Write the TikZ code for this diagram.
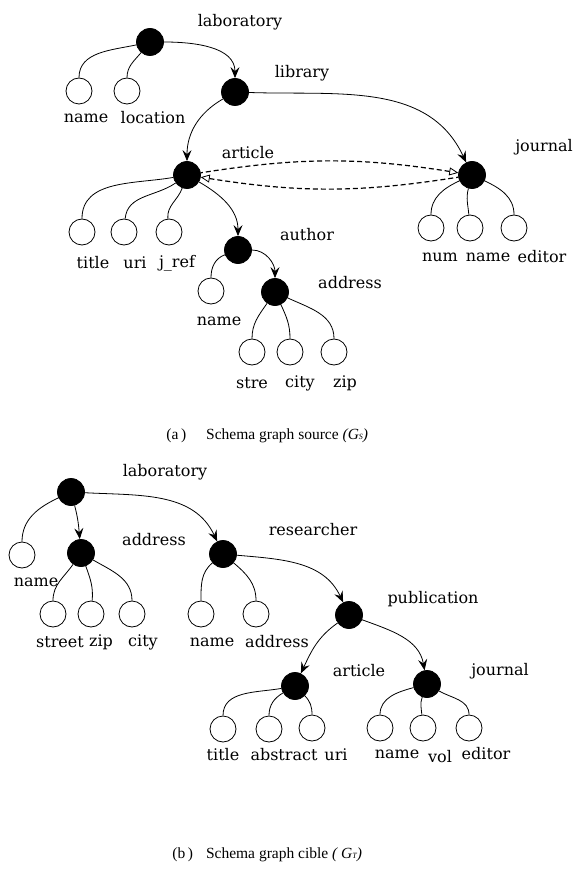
\documentclass[tikz,border=0pt]{standalone}
\usepackage{fontspec}
\usepackage{tikz}
\usetikzlibrary{arrows.meta}
\newfontfamily\lblfont{DejaVu Serif}
\newfontfamily\capfont{Liberation Serif}

\tikzset{
  full/.style = {circle, draw, fill=black, minimum size=27pt, inner sep=0pt},
  leaf/.style = {circle, draw, fill=white, minimum size=26pt, inner sep=0pt},
  lbl/.style  = {inner sep=0pt, font=\lblfont\fontsize{16}{18}\selectfont},
  captxt/.style = {inner sep=0pt, anchor=west, font=\capfont\fontsize{15.5}{18}\selectfont},
  arr/.style  = {-{Stealth[length=11pt, width=9pt, inset=4pt]}},
  link/.style = {line width=1.2pt, dash pattern=on 5pt off 3pt,
                 {Triangle[open, length=9pt, width=8pt, line width=0.8pt]}-},
}

\begin{document}
\begin{tikzpicture}[x=1pt, y=-1pt, line width=0.8pt]
        \useasboundingbox (0,0) rectangle (576,877);

        % (a) source graph
        \node[full] (sLab)   at (150,42)  {};
        \node[leaf] (sName)  at (79,91)   {};
        \node[leaf] (sLoc)   at (127,91)  {};
        \node[full] (sLib)   at (235,92)  {};
        \node[full] (sArt)   at (187,175) {};
        \node[full] (sJour)  at (472,175) {};
        \node[leaf] (sTitle) at (82,232)  {};
        \node[leaf] (sUri)   at (124,232) {};
        \node[leaf] (sJref)  at (169,232) {};
        \node[full] (sAuth)  at (238,250) {};
        \node[leaf] (sAName) at (211,291) {};
        \node[full] (sAddr)  at (275,292) {};
        \node[leaf] (sStr)   at (252,352) {};
        \node[leaf] (sCity)  at (290,352) {};
        \node[leaf] (sZip)   at (334,352) {};
        \node[leaf] (sNum)   at (431,228) {};
        \node[leaf] (sJName) at (470,228) {};
        \node[leaf] (sEdit)  at (514,228) {};

        \node[lbl] (lsLab)   at (240,22)  {laboratory};
        \node[lbl] (lsName)  at (86,118)  {name};
        \node[lbl] (lsLoc)   at (153,118) {location};
        \node[lbl] (lsLib)   at (302,73)  {library};
        \node[lbl] (lsArt)   at (248,153) {article};
        \node[lbl] (lsJour)  at (544,147) {journal};
        \node[lbl] (lsTitle) at (93,263)  {title};
        \node[lbl] (lsUri)   at (135,263) {uri};
        \node[lbl] (lsJref)  at (177,263) {j\_ref};
        \node[lbl] (lsAuth)  at (307,235) {author};
        \node[lbl] (lsAName) at (219,321) {name};
        \node[lbl] (lsAddr)  at (350,283) {address};
        \node[lbl] (lsStr)   at (252,383) {stre};
        \node[lbl] (lsCity)  at (300,383) {city};
        \node[lbl] (lsZip)   at (345,383) {zip};
        \node[lbl] (lsNum)   at (440,257) {num};
        \node[lbl] (lsJName) at (488,257) {name};
        \node[lbl] (lsEdit)  at (542,257) {editor};

        \draw (sLab) to[out=192, in=90] (sName);
        \draw (sLab) to[out=230, in=90] (sLoc);
        \draw[arr] (sLab) to[out=0, in=90] (sLib);
        \draw[arr] (sLib) to[out=210, in=90] (sArt);
        \draw[arr] (sLib) to[out=-2, in=115] (sJour);
        \draw[link] (sJour) to[bend right=9] (sArt);
        \draw[link] (sArt) to[bend right=9] (sJour);
        \draw (sArt) to[out=190, in=90] (sTitle);
        \draw (sArt) to[out=215, in=85] (sUri);
        \draw (sArt) to[out=250, in=95] (sJref);
        \draw[arr] (sArt) to[out=-30, in=90] (sAuth);
        \draw (sAuth) to[out=200, in=90] (sAName);
        \draw[arr] (sAuth) to[out=0, in=90] (sAddr);
        \draw (sAddr) to[out=235, in=90] (sStr);
        \draw (sAddr) to[out=295, in=90] (sCity);
        \draw (sAddr) to[out=-25, in=90] (sZip);
        \draw (sJour) to[out=205, in=90] (sNum);
        \draw (sJour) to[out=255, in=95] (sJName);
        \draw (sJour) to[out=-25, in=90] (sEdit);

        \node[captxt] (capA) at (166,436) {(a\,)\hspace{20pt}Schema graph source \textit{(G{\footnotesize S})}};

        % (b) target graph
        \node[full] (tLab)   at (71,492)  {};
        \node[leaf] (tName)  at (22,555)  {};
        \node[full] (tAddr)  at (81,553)  {};
        \node[leaf] (tStr)   at (53,614)  {};
        \node[leaf] (tZip)   at (91,614)  {};
        \node[leaf] (tCity)  at (132,614) {};
        \node[full] (tRes)   at (223,554) {};
        \node[leaf] (tRName) at (201,614) {};
        \node[leaf] (tRAddr) at (256,614) {};
        \node[full] (tPub)   at (349,615) {};
        \node[full] (tArt)   at (295,686) {};
        \node[full] (tJour)  at (427,684) {};
        \node[leaf] (tTitle) at (223,729) {};
        \node[leaf] (tAbs)   at (269,729) {};
        \node[leaf] (tUri)   at (312,728) {};
        \node[leaf] (tJName) at (380,728) {};
        \node[leaf] (tVol)   at (423,728) {};
        \node[leaf] (tEdit)  at (469,728) {};

        \node[lbl] (ltLab)   at (165,472) {laboratory};
        \node[lbl] (ltName)  at (36,582)  {name};
        \node[lbl] (ltAddr)  at (154,540) {address};
        \node[lbl] (ltStr)   at (60,642)  {street};
        \node[lbl] (ltZip)   at (101,642) {zip};
        \node[lbl] (ltCity)  at (143,642) {city};
        \node[lbl] (ltRes)   at (313,530) {researcher};
        \node[lbl] (ltRName) at (212,642) {name};
        \node[lbl] (ltRAddr) at (277,642) {address};
        \node[lbl] (ltPub)   at (433,599) {publication};
        \node[lbl] (ltArt)   at (359,671) {article};
        \node[lbl] (ltJour)  at (500,671) {journal};
        \node[lbl] (ltTitle) at (223,755) {title};
        \node[lbl] (ltAbs)   at (284,755) {abstract};
        \node[lbl] (ltUri)   at (336,755) {uri};
        \node[lbl] (ltJName) at (397,754) {name};
        \node[lbl] (ltVol)   at (440,757) {vol};
        \node[lbl] (ltEdit)  at (486,754) {editor};

        \draw (tLab) to[out=205, in=90] (tName);
        \draw[arr] (tLab) to[out=-75, in=95] (tAddr);
        \draw[arr] (tLab) to[out=-3, in=115] (tRes);
        \draw (tAddr) to[out=235, in=90] (tStr);
        \draw (tAddr) to[out=-70, in=85] (tZip);
        \draw (tAddr) to[out=-30, in=90] (tCity);
        \draw (tRes) to[out=220, in=90] (tRName);
        \draw (tRes) to[out=-40, in=90] (tRAddr);
        \draw[arr] (tRes) to[out=-5, in=115] (tPub);
        \draw[arr] (tPub) to[out=215, in=65] (tArt);
        \draw[arr] (tPub) to[out=-20, in=100] (tJour);
        \draw (tArt) to[out=190, in=90] (tTitle);
        \draw (tArt) to[out=210, in=90] (tAbs);
        \draw (tArt) to[out=-45, in=90] (tUri);
        \draw (tJour) to[out=195, in=90] (tJName);
        \draw (tJour) to[out=250, in=95] (tVol);
        \draw (tJour) to[out=-30, in=90] (tEdit);

        \node[captxt] (capB) at (172,855) {(b\,)\hspace{13pt}Schema graph cible \textit{( G{\footnotesize T})}};
    \end{tikzpicture}
\end{document}
